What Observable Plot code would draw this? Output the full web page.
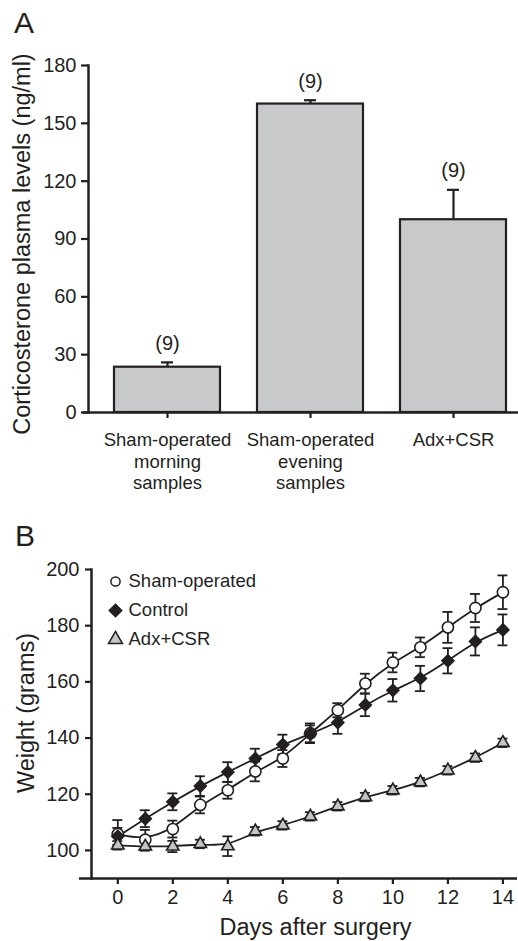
<!DOCTYPE html>
<html><head><meta charset="utf-8">
<script src="https://cdn.jsdelivr.net/npm/d3@7"></script>
<script src="https://cdn.jsdelivr.net/npm/@observablehq/plot@0.6"></script>
<style>
body{margin:0;background:#fff;font-family:"Liberation Sans",Arial,sans-serif;color:#231f20}
#wrap{position:relative;width:518px;height:941px;overflow:hidden;background:#fff}
.panel{position:absolute;left:0}
.lbl{position:absolute;font-size:30px;line-height:1}
</style></head><body>
<div id="wrap">
  <div id="a" class="panel" style="top:0"></div>
  <div id="b" class="panel" style="top:520px"></div>
  <div class="lbl" style="left:14px;top:8px">A</div>
  <div class="lbl" style="left:15px;top:521px">B</div>
</div>
<script>
// ---------- Panel A data ----------
const cats = ["Sham-operated morning samples", "Sham-operated evening samples", "Adx+CSR"];
const catLabels = ["Sham-operated\nmorning\nsamples", "Sham-operated\nevening\nsamples", "Adx+CSR"];
const cortMean = [23.5, 160, 100];
const cortSem = [2.5, 2, 15.5];
const cortN = [9, 9, 9];
const cortTicks = [0, 30, 60, 90, 120, 150, 180];
const cortLabel = "Corticosterone plasma levels (ng/ml)";

// ---------- Panel B data ----------
const days = [0, 1, 2, 3, 4, 5, 6, 7, 8, 9, 10, 11, 12, 13, 14];
const series = ["Sham-operated", "Control", "Adx+CSR"];
const shamMean = [105.8, 103.8, 107.6, 116.2, 121.4, 128.1, 132.7, 141.7, 149.9, 159.4, 166.9, 172.3, 179.4, 186.3, 191.9];
const shamSem  = [5, 3.5, 3, 3, 3, 3.5, 3, 3.5, 2.5, 3.5, 3.5, 3.5, 5.5, 5, 6];
const controlMean = [105, 111.3, 117.3, 122.9, 127.9, 132.7, 137.7, 141.5, 145.5, 151.8, 157, 161.2, 167.5, 174.4, 178.5];
const controlSem  = [3, 3, 3, 3.5, 3.5, 3.5, 3.5, 3, 4, 4, 4, 4.5, 4.5, 5, 5.5];
const adxMean = [101.8, 101.4, 101.4, 102.3, 101.5, 106.8, 108.9, 112.1, 115.7, 119, 121.4, 124.3, 128.5, 133, 138.3];
const adxSem  = [1.5, 1.5, 2, 1.5, 3.5, 1.5, 1.5, 1.5, 1.5, 1.5, 1.5, 1.5, 1.5, 1.5, 1.5];
const weightTicks = [100, 120, 140, 160, 180, 200];
const dayTicks = [0, 2, 4, 6, 8, 10, 12, 14];
const weightLabel = "Weight (grams)";
const dayLabel = "Days after surgery";

// ---------- styles ----------
const ink = "#231f20";
const barFill = "#c8c9cb";
const font = '"Liberation Sans", Arial, sans-serif';
const seriesStyle = [
  {symbol: "circle", fill: "#ffffff", r: 5.6, lr: 4.6},
  {symbol: "diamond2", fill: ink, r: 5.4, lr: 5.6},
  {symbol: "triangle", fill: "#c3c4c6", r: 4.6, lr: 5.2}
];

// ---------- Panel A ----------
const barData = cats.map((c, i) => ({cat: c, mean: cortMean[i], sem: cortSem[i], n: cortN[i]}));
const chartA = Plot.plot({
  width: 518, height: 500,
  marginTop: 65, marginBottom: 88, marginLeft: 88, marginRight: 0,
  style: {fontFamily: font, color: ink, background: "#fff", overflow: "visible"},
  x: {domain: cats, paddingInner: 0.26, paddingOuter: 0.13, align: 0.67, axis: null},
  y: {domain: [0, 180], axis: null},
  marks: [
    Plot.ruleX(barData, {x: "cat", y1: "mean", y2: d => d.mean + d.sem, stroke: ink, strokeWidth: 2.2}),
    Plot.tickY(barData, {x: "cat", y: d => d.mean + d.sem, stroke: ink, strokeWidth: 2.2, insetLeft: 47, insetRight: 47}),
    Plot.barY(barData, {x: "cat", y: "mean", fill: barFill, stroke: ink, strokeWidth: 2.2}),
    Plot.text(barData, {x: "cat", y: d => d.mean + d.sem, text: d => `(${d.n})`, dy: -19, fontSize: 20, fill: ink}),
    Plot.axisY({ticks: cortTicks, tickSize: 7, tickPadding: 5, fontSize: 20, strokeWidth: 2.2, label: null}),
    Plot.axisX({tickSize: 6, tickPadding: 12, fontSize: 18.5, lineHeight: 1.17, strokeWidth: 2.2,
      tickFormat: c => catLabels[cats.indexOf(c)], label: null}),
    Plot.frame({anchor: "left", stroke: ink, strokeWidth: 2.5}),
    Plot.ruleY([0], {stroke: ink, strokeWidth: 2.5, insetLeft: -5}),
    Plot.text([cortLabel], {frameAnchor: "left", dx: -66, dy: 5, rotate: -90, textAnchor: "middle", lineAnchor: "middle", fontSize: 23.5, fill: ink, text: d => d})
  ]
});
document.getElementById("a").appendChild(chartA);

// ---------- Panel B ----------
const means = [shamMean, controlMean, adxMean];
const sems = [shamSem, controlSem, adxSem];
const rows = series.flatMap((s, si) => days.map((d, i) => ({series: s, si, day: d, mean: means[si][i], sem: sems[si][i]})));

const marksB = [
  Plot.line(rows, {x: "day", y: "mean", z: "series", curve: "basis", stroke: ink, strokeWidth: 1.8}),
  Plot.ruleX(rows, {x: "day", y1: d => d.mean - d.sem, y2: d => d.mean + d.sem, stroke: ink, strokeWidth: 1.8}),
  Plot.ruleY(rows, {y: d => d.mean + d.sem, x1: "day", x2: "day", insetLeft: -5, insetRight: -5, stroke: ink, strokeWidth: 1.8}),
  Plot.ruleY(rows, {y: d => d.mean - d.sem, x1: "day", x2: "day", insetLeft: -5, insetRight: -5, stroke: ink, strokeWidth: 1.8})
];
series.forEach((s, si) => {
  const st = seriesStyle[si];
  marksB.push(Plot.dot(rows.filter(r => r.si === si), {x: "day", y: "mean", symbol: st.symbol, r: st.r, fill: st.fill, stroke: ink, strokeWidth: 1.6}));
});
series.forEach((s, si) => {
  const st = seriesStyle[si];
  marksB.push(Plot.dot([s], {frameAnchor: "top-left", dx: 24, dy: 12 + 29 * si, symbol: st.symbol, r: st.lr, fill: st.fill, stroke: ink, strokeWidth: 1.5}));
  marksB.push(Plot.text([s], {frameAnchor: "top-left", dx: 37, dy: 12 + 29 * si, text: d => d, textAnchor: "start", lineAnchor: "middle", fontSize: 18.5, fill: ink}));
});
marksB.push(
  Plot.axisY({ticks: weightTicks, tickSize: 6, tickPadding: 6, fontSize: 20, strokeWidth: 2.2, label: null}),
  Plot.axisX({ticks: dayTicks, tickSize: 6, tickPadding: 5, fontSize: 20, strokeWidth: 2.2, label: null}),
  Plot.frame({anchor: "left", stroke: ink, strokeWidth: 2.5}),
  Plot.ruleY([90], {stroke: ink, strokeWidth: 2.5, insetLeft: -12}),
  Plot.text([weightLabel], {frameAnchor: "left", dx: -65, dy: -11, rotate: -90, textAnchor: "middle", lineAnchor: "middle", fontSize: 23.5, fill: ink, text: d => d}),
  Plot.text([dayLabel], {frameAnchor: "bottom", dx: 11, dy: 49, textAnchor: "middle", lineAnchor: "middle", fontSize: 23.5, fill: ink, text: d => d})
);

const chartB = Plot.plot({
  width: 518, height: 421,
  marginTop: 49, marginBottom: 63, marginLeft: 91, marginRight: 1,
  style: {fontFamily: font, color: ink, background: "#fff", overflow: "visible"},
  x: {domain: [-0.956, 14.53], axis: null},
  y: {domain: [90, 200], axis: null},
  marks: marksB
});
document.getElementById("b").appendChild(chartB);
</script>
</body></html>
